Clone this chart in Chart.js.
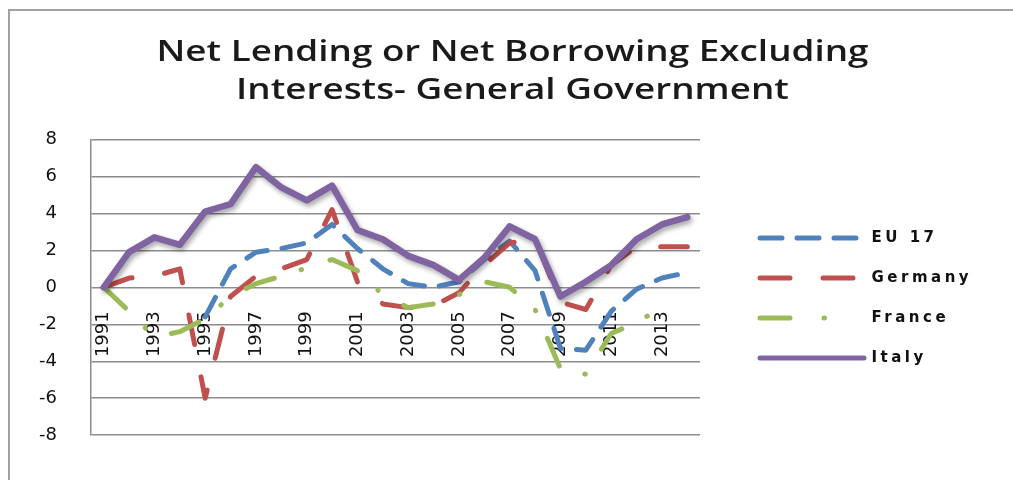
<!DOCTYPE html>
<html>
<head>
<meta charset="utf-8">
<script src="https://cdn.jsdelivr.net/npm/chart.js@4.4.1/dist/chart.umd.min.js"></script>
<style>
  html, body { margin: 0; padding: 0; background: #fff; }
  #frame { position: absolute; left: 8px; top: 9px; width: 1100px; height: 600px; border: 2px solid #a0a0a0; }
  #wrap { position: absolute; left: 0; top: 0; width: 1013px; height: 480px; }
</style>
</head>
<body>
<div id="frame"></div>
<div id="wrap"><canvas id="chart"></canvas></div>
<script>
// data
const years = ['1991','1992','1993','1994','1995','1996','1997','1998','1999','2000','2001','2002',
               '2003','2004','2005','2006','2007','2008','2009','2010','2011','2012','2013','2014'];
const eu17    = [null, null, null, null, -1.6, 1.0, 1.9, 2.1, 2.4, 3.4, 2.1, 1.0,
                 0.2, 0.0, 0.3, 1.5, 2.5, 0.9, -3.3, -3.4, -1.3, -0.1, 0.5, 0.8];
const germany = [0, 0.5, 0.6, 1.0, -6.0, -0.5, 0.6, 1.0, 1.5, 4.2, 0.3, -0.9,
                 -1.1, -1.0, -0.3, 1.2, 2.4, 2.6, -0.8, -1.2, 1.2, 2.2, 2.2, 2.2];
const france  = [0, -1.3, -2.7, -2.4, -1.7, -0.5, 0.2, 0.6, 1.05, 1.5, 0.9, -0.4,
                 -1.1, -0.9, -0.4, 0.3, 0.0, -1.2, -4.4, -4.7, -2.5, -1.9, -1.1, null];
const italy   = [0, 1.9, 2.7, 2.3, 4.1, 4.5, 6.5, 5.4, 4.7, 5.5, 3.1, 2.6,
                 1.7, 1.2, 0.4, 1.6, 3.3, 2.6, -0.5, 0.3, 1.2, 2.6, 3.4, 3.8];
const yTicks  = { min: -8, max: 8, step: 2 };

const gridGrey = '#8c8c8c';
const font = 'DejaVu Sans';

// soft drop shadow under the Italy line (excel style)
const lineShadow = {
  id: 'lineShadow',
  beforeDatasetDraw(chart, args) {
    if (args.index !== 3) return;
    const ctx = chart.ctx;
    ctx.save();
    ctx.shadowColor = 'rgba(0,0,0,0.35)';
    ctx.shadowBlur = 5;
    ctx.shadowOffsetX = 2;
    ctx.shadowOffsetY = 3;
  },
  afterDatasetDraw(chart, args) {
    if (args.index === 3) chart.ctx.restore();
  }
};

// legend: fixed box width, items moved, wide letter spacing; title stretched wide
const boxTweak = {
  id: 'boxTweak',
  afterInit(chart) {
    const lg = chart.legend;
    const fit = lg.fit;
    const draw = lg.draw;
    lg.fit = function () { fit.call(this); this.width = 313; };
    lg.draw = function () {
      const ctx = this.ctx;
      ctx.save();
      ctx.translate(35, 70);
      ctx.letterSpacing = '3.5px';
      draw.call(this);
      ctx.restore();
    };
    const tb = chart.titleBlock;
    const tdraw = tb.draw;
    tb.draw = function () {
      const ctx = this.ctx;
      const cx = (this.left + this.right) / 2;
      ctx.save();
      ctx.translate(cx + 6, 0);
      ctx.scale(1.27, 1);
      ctx.translate(-cx, 0);
      tdraw.call(this);
      ctx.restore();
    };
  }
};

// legend dash for France is a bit longer than in the plot
const legendDash = { 2: [30, 34, 0.5, 50] };

new Chart(document.getElementById('chart'), {
  type: 'line',
  data: {
    labels: years,
    datasets: [
      {
        label: 'EU 17', data: eu17, order: 4,
        borderColor: '#4F81BD', backgroundColor: '#4F81BD',
        borderWidth: 5, borderDash: [22, 15], borderCapStyle: 'round', borderJoinStyle: 'round'
      },
      {
        label: 'Germany', data: germany, order: 3,
        borderColor: '#C0504D', backgroundColor: '#C0504D',
        borderWidth: 5, borderDash: [30, 33], borderCapStyle: 'round', borderJoinStyle: 'round'
      },
      {
        label: 'France', data: france, order: 2,
        borderColor: '#9BBB59', backgroundColor: '#9BBB59',
        borderWidth: 5, borderDash: [30, 28, 0.5, 30], borderCapStyle: 'round', borderJoinStyle: 'round'
      },
      {
        label: 'Italy', data: italy, order: 1,
        borderColor: '#8064A2', backgroundColor: '#8064A2',
        borderWidth: 6.5, borderCapStyle: 'round', borderJoinStyle: 'round'
      }
    ]
  },
  options: {
    responsive: true,
    maintainAspectRatio: false,
    animation: false,
    spanGaps: false,
    elements: { point: { radius: 0, hoverRadius: 0 }, line: { tension: 0 } },
    layout: { padding: { left: 0, right: 0, top: 0, bottom: 24 } },
    plugins: {
      title: {
        display: true,
        text: ['Net Lending or Net Borrowing Excluding', 'Interests- General Government'],
        color: '#1a1a1a',
        font: { family: 'Open Sans', size: 29, weight: '600', lineHeight: 1.3 },
        padding: { top: 34, bottom: 30 }
      },
      legend: {
        position: 'right',
        labels: {
          usePointStyle: true,
          pointStyle: 'line',
          pointStyleWidth: 104,
          padding: 25,
          color: '#111',
          font: { family: font, size: 15, weight: 'bold' },
          generateLabels(chart) {
            const items = Chart.defaults.plugins.legend.labels.generateLabels(chart);
            items.forEach(it => {
              const ds = chart.data.datasets[it.datasetIndex];
              it.lineDash = legendDash[it.datasetIndex] || ds.borderDash || [];
              it.lineCap = 'round';
              it.lineWidth = Math.min(ds.borderWidth, 5);
              it.strokeStyle = ds.borderColor;
            });
            return items.sort((a, b) => a.datasetIndex - b.datasetIndex);
          }
        }
      },
      tooltip: { enabled: false }
    },
    scales: {
      x: {
        position: { y: 0 },
        offset: true,
        grid: { display: false, drawTicks: false },
        border: { display: false },
        ticks: {
          autoSkip: false,
          minRotation: 90,
          maxRotation: 90,
          padding: 24,
          color: '#111',
          font: { family: font, size: 18 },
          callback: (v, i) => (i % 2 === 0 ? years[i] : '')
        }
      },
      y: {
        min: yTicks.min,
        max: yTicks.max,
        ticks: { stepSize: yTicks.step, padding: 34, color: '#111', font: { family: font, size: 18 } },
        grid: { color: gridGrey, lineWidth: 1.5, drawTicks: false },
        border: { display: true, color: gridGrey, width: 1.5 },
        afterFit(s) { s.width = 91; }
      }
    }
  },
  plugins: [lineShadow, boxTweak]
});
</script>
</body>
</html>
